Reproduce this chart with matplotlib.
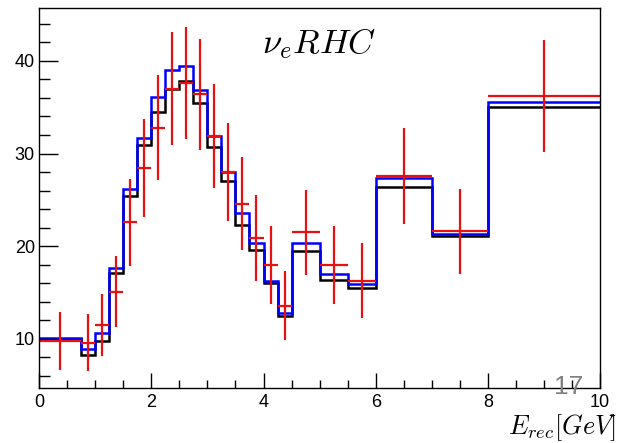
import numpy as np
import matplotlib.pyplot as plt

plt.rcParams['font.family'] = ['Liberation Sans', 'DejaVu Sans']
plt.rcParams['mathtext.fontset'] = 'cm'

# bin edges (GeV)
edges = [0, 0.75, 1.0, 1.25, 1.5, 1.75, 2.0, 2.25, 2.5, 2.75, 3.0, 3.25,
         3.5, 3.75, 4.0, 4.25, 4.5, 5.0, 5.5, 6.0, 7.0, 8.0, 10.0]

# nominal prediction (black)
nominal = [10.0, 8.3, 9.8, 17.1, 25.4, 30.9, 34.5, 37.0, 37.8, 35.4, 30.7,
           27.0, 22.3, 19.6, 16.0, 12.5, 19.5, 16.4, 15.5, 26.4, 21.1, 35.0]
# fitted / alternative prediction (blue)
fitted = [10.1, 8.9, 10.6, 17.6, 26.2, 31.7, 36.1, 39.0, 39.4, 36.8, 31.9,
          28.0, 23.6, 20.4, 16.3, 12.8, 20.4, 17.0, 15.9, 27.4, 21.3, 35.6]
# fake data (red) with errors
data = [9.8, 9.6, 11.5, 15.1, 22.6, 28.4, 32.8, 37.0, 37.6, 36.4, 31.9,
        28.0, 24.6, 20.9, 18.0, 13.6, 21.5, 18.0, 16.3, 27.6, 21.6, 36.2]
data_err = [3.1, 3.1, 3.3, 3.8, 4.7, 5.3, 5.7, 6.1, 6.0, 6.0, 5.6,
            5.3, 5.0, 4.6, 4.2, 3.7, 4.6, 4.2, 4.0, 5.2, 4.6, 6.0]

edges = np.array(edges)
centers = 0.5 * (edges[1:] + edges[:-1])
halfw = 0.5 * (edges[1:] - edges[:-1])

fig = plt.figure(figsize=(6.2, 4.43), dpi=100)
ax = fig.add_axes([0.063, 0.124, 0.905, 0.858])

ax.stairs(nominal, edges, color='black', lw=1.8, baseline=None)
ax.stairs(fitted, edges, color='#0000ff', lw=1.8, baseline=None)
ax.errorbar(centers, data, xerr=halfw, yerr=data_err, fmt='none',
            ecolor='#e81010', elinewidth=1.6, capsize=0)

ax.set_xlim(0, 10)
ax.set_ylim(4.7, 45.7)
ax.set_xticks(np.arange(0, 11, 2))
ax.set_xticks(np.arange(0, 10.01, 0.5), minor=True)
ax.set_yticks([10, 20, 30, 40])
ax.set_yticks(np.arange(6, 46, 2), minor=True)
ax.tick_params(which='both', direction='in', top=False, right=False,
               labelsize=13, width=1)
ax.tick_params(axis='y', which='major', length=14, pad=3)
ax.tick_params(axis='y', which='minor', length=8)
ax.tick_params(axis='x', which='major', length=11, pad=4)
ax.tick_params(axis='x', which='minor', length=6)
for s in ax.spines.values():
    s.set_linewidth(1)

fig.text(0.514, 0.902, r'$\nu_e RHC$', fontsize=25, ha='center', va='center')
fig.text(0.995, 0.0, r'$E_{rec}[GeV]$', fontsize=19, ha='right', va='bottom')
fig.text(0.918, 0.126, '17', fontsize=19, color='#808080', ha='center', va='center')

fig.savefig('out.png', dpi=100)
